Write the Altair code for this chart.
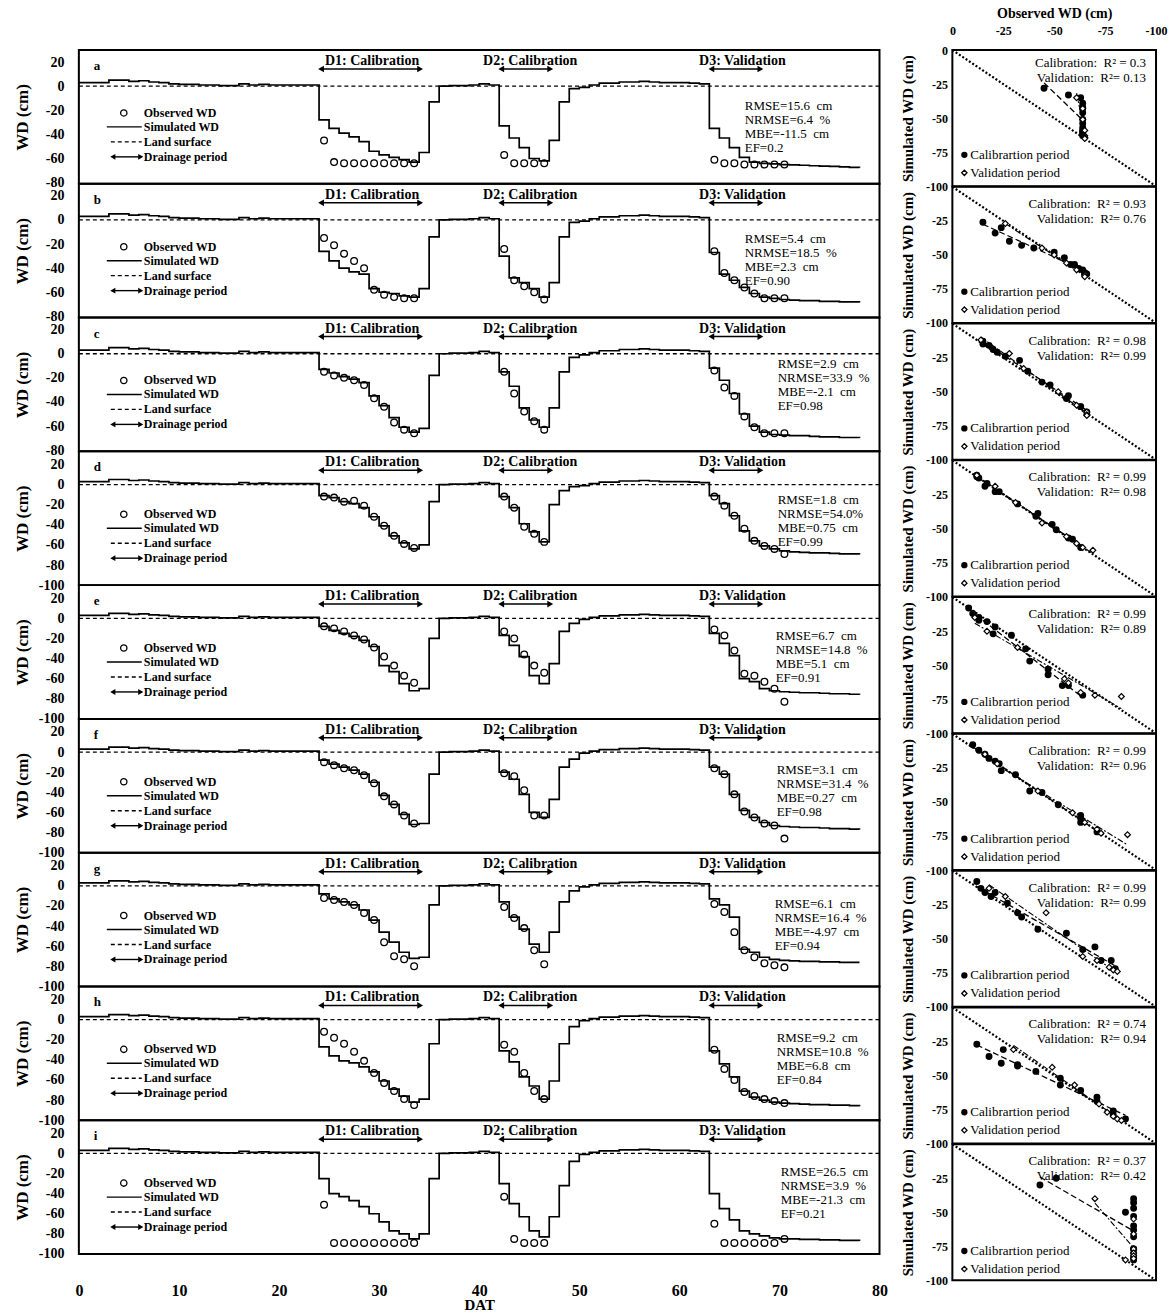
import altair as alt
import pandas as pd

FONT = "Liberation Serif"

PANEL_LETTERS = ["a", "b", "c", "d", "e", "f", "g", "h", "i"]

# ---------------- simulated WD outside drainage periods (shared) ----------------
PRE_DAYS = [0, 1, 2, 3, 4, 5, 6, 7, 8, 9, 10, 11, 12, 13, 14, 15, 16, 17, 18, 19, 20, 21, 22, 23]
PRE_WD = [3, 3, 3, 5, 5, 4, 4.5, 3.5, 3, 2, 1.5, 1.5, 1, 1, 0.5, 0.5, 2, 1, 1.5, 1, 1, 1, 1, 1]
MID1_DAYS = [36, 37, 38, 39, 40, 41]
MID1_WD = [0, 0.5, 0.5, 1, 2, 1]
MID2_DAYS = [50, 51, 52, 53, 54, 55, 56, 57, 58, 59, 60, 61, 62]
MID2_WD = [-1, 1, 2.5, 2.5, 3.5, 3.5, 4, 3.5, 3, 3, 3, 2.5, 2]

D1_DAYS = [24, 25, 26, 27, 28, 29, 30, 31, 32, 33, 34, 35]
D2_DAYS = [42, 43, 44, 45, 46, 47, 48, 49]
D3_DAYS = [63, 64, 65, 66, 67, 68, 69, 70, 71, 72, 73, 74, 75, 76, 77, 78]

OBS_D1_DAYS = [24.5, 25.5, 26.5, 27.5, 28.5, 29.5, 30.5, 31.5, 32.5, 33.5]
OBS_D2_DAYS = [42.5, 43.5, 44.5, 45.5, 46.5]
OBS_D3_DAYS = [63.5, 64.5, 65.5, 66.5, 67.5, 68.5, 69.5, 70.5]

# ---------------- simulated WD in drainage periods, panels a..i ----------------
D1_SIM = [
    [-28, -35, -39, -42, -46, -54, -57, -59, -61, -63, -55, -13],
    [-26, -34, -40, -43, -45, -57, -60, -61, -63, -64, -57, -14],
    [-13, -16, -19, -21, -24, -35, -43, -53, -61, -65, -62, -18],
    [-11, -13, -17, -19, -23, -32, -41, -51, -58, -64, -60, -17],
    [-8, -12, -15, -18, -22, -28, -47, -53, -65, -72, -70, -20],
    [-8, -12, -15, -18, -22, -30, -43, -52, -62, -72, -71, -22],
    [-8, -13, -16, -19, -24, -34, -46, -56, -66, -72, -71, -19],
    [-27, -36, -41, -43, -47, -52, -61, -69, -76, -82, -79, -24],
    [-25, -40, -43, -47, -53, -60, -68, -77, -80, -85, -80, -25],
]
D2_SIM = [
    [-33, -43, -51, -60, -62, -45, -13, -2],
    [-30, -48, -52, -57, -64, -52, -14, -2],
    [-15, -27, -45, -55, -61, -45, -15, -3],
    [-12, -23, -39, -47, -57, -20, -6, -2],
    [-17, -27, -38, -57, -65, -45, -13, -5],
    [-20, -27, -42, -60, -65, -47, -15, -7],
    [-16, -31, -43, -58, -66, -46, -16, -5],
    [-31, -42, -57, -66, -79, -61, -24, -7],
    [-30, -50, -63, -77, -83, -63, -32, -8],
]
D3_SIM = [
    [-35, -43, -51, -59, -63, -64, -64.5, -65, -65.3, -65.6, -66, -66.3, -66.6, -67, -67.3, -67.6],
    [-27, -45, -50, -56, -61, -64, -65, -66, -66.5, -67, -67, -67.5, -67.5, -68, -68, -68.5],
    [-12, -22, -33, -50, -60, -65, -67, -67.5, -68, -68, -68.5, -69, -69, -69.5, -69.5, -70],
    [-11, -19, -31, -46, -56, -61, -64, -66, -67, -67.5, -68, -68, -68.5, -69, -69, -69.5],
    [-15, -25, -37, -60, -63, -70, -72, -73, -73.5, -74, -74, -74.5, -75, -75, -75.5, -76],
    [-15, -22, -42, -58, -65, -70, -73, -74, -74.5, -75, -75, -75.5, -76, -76, -76.5, -77],
    [-13, -19, -31, -63, -66, -71, -73, -74, -74.5, -75, -75, -75.5, -75.5, -76, -76, -76],
    [-31, -44, -57, -71, -77, -80, -82, -83, -83.5, -84, -84.5, -84.5, -85, -85, -85.5, -86],
    [-40, -55, -66, -77, -80, -82, -84, -85, -85, -85.5, -85.5, -86, -86, -86.5, -86.5, -87],
]

# ---------------- observed WD, panels a..i ----------------
D1_OBS = [
    [-45, -63, -64, -64, -64, -64, -64, -64, -64, -64],
    [-15, -21, -28, -34, -40, -58, -62, -64, -65, -65],
    [-15, -18, -20, -22, -26, -37, -44, -57, -63, -66],
    [-12, -13, -17, -16, -21, -32, -41, -51, -59, -63],
    [-8, -10, -13, -17, -21, -29, -38, -47, -57, -64],
    [-10, -13, -16, -18, -23, -31, -44, -52, -63, -71],
    [-12, -14, -16, -19, -27, -34, -56, -70, -73, -80],
    [-12, -18, -24, -32, -41, -53, -63, -71, -79, -85],
    [-51, -89, -89, -89, -89, -89, -89, -89, -89, -89],
]
D2_OBS = [
    [-57, -64, -64, -64, -64],
    [-24, -50, -55, -60, -66],
    [-15, -33, -48, -56, -63],
    [-12, -23, -42, -49, -57],
    [-13, -20, -36, -47, -54],
    [-21, -24, -38, -63, -63],
    [-21, -32, -42, -64, -78],
    [-25, -32, -53, -71, -79],
    [-43, -85, -89, -89, -89],
]
D3_OBS = [
    [-61, -64, -64, -65, -65, -65, -65, -65],
    [-26, -44, -50, -56, -61, -65, -65, -65],
    [-14, -28, -35, -52, -61, -66, -66, -66],
    [-12, -21, -31, -44, -56, -61, -64, -69],
    [-11, -17, -32, -55, -57, -63, -70, -83],
    [-16, -22, -42, -59, -65, -71, -73, -86],
    [-18, -26, -46, -64, -71, -77, -79, -81],
    [-30, -49, -60, -72, -76, -79, -81, -83],
    [-70, -89, -89, -89, -89, -89, -89, -85],
]

# ---------------- statistics text ----------------
RMSE = ["15.6", "5.4", "2.9", "1.8", "6.7", "3.1", "6.1", "9.2", "26.5"]
NRMSE = ["6.4\u00a0\u00a0%", "18.5\u00a0\u00a0%", "33.9\u00a0\u00a0%", "54.0%", "14.8\u00a0\u00a0%",
         "31.4\u00a0\u00a0%", "16.4\u00a0\u00a0%", "10.8\u00a0\u00a0%", "3.9\u00a0\u00a0%"]
MBE = ["-11.5", "2.3", "-2.1", "0.75", "5.1", "0.27", "-4.97", "6.8", "-21.3"]
EF = ["0.2", "0.90", "0.98", "0.99", "0.91", "0.98", "0.94", "0.84", "0.21"]
R2_CAL = ["0.3", "0.93", "0.98", "0.99", "0.99", "0.99", "0.99", "0.74", "0.37"]
R2_VAL = ["0.13", "0.76", "0.99", "0.98", "0.89", "0.96", "0.99", "0.94", "0.42"]

# ---------------- axes / annotation settings ----------------
Y_MIN = [-81, -81, -81, -100, -100, -100, -100, -100, -100]
Y_MAX = [30, 30, 30, 33, 33, 33, 33, 33, 33]
Y_TICKS_SHORT = [20, 0, -20, -40, -60, -80]
Y_TICKS_LONG = [20, 0, -20, -40, -60, -80, -100]
X_TICKS = [0, 10, 20, 30, 40, 50, 60, 70, 80]
R_TICKS_FIRST = [0, -25, -50, -75, -100]
R_TICKS = [-25, -50, -75, -100]
DIAG = [0, -100]
LAND_SURFACE = [0]

ARROW_START = [24.2, 42.2, 63.2]
ARROW_END = [34.1, 47.1, 68.1]
LABEL_X = [29.3, 45.1, 66.3]
DRAIN_LABELS = ["D1: Calibration", "D2: Calibration", "D3: Validation"]

STATS_X = [667, 667, 700, 700, 698, 699, 697, 699, 703]
STATS_Y0 = [56, 55, 47, 49, 51, 51, 51, 52, 52]

LEFT_W, LEFT_H = 802, 134
RIGHT_W, RIGHT_H = 204, 136.4

ONE = pd.DataFrame({"k": [0]})


def ptext(txt, x, y, size=12, weight="normal", align="left", opacity=1):
    return alt.Chart(pd.DataFrame({"t": [txt]})).mark_text(
        font=FONT, fontSize=size, fontWeight=weight, align=align,
        baseline="middle", color="black", opacity=opacity
    ).encode(x=alt.value(x), y=alt.value(y), text="t:N")


def prule(x1, x2, y, dash=None):
    kw = dict(color="black", strokeWidth=1.4)
    if dash:
        kw["strokeDash"] = dash
    return alt.Chart(ONE).mark_rule(**kw).encode(
        x=alt.value(x1), x2=alt.value(x2), y=alt.value(y))


def ppoint(x, y, shape, filled, size):
    return alt.Chart(ONE).mark_point(
        shape=shape, filled=filled, color="black", size=size,
        strokeWidth=1.3, opacity=1
    ).encode(x=alt.value(x), y=alt.value(y))


def left_panel(i):
    last = i == 8
    xs = alt.Scale(domain=[0, 80], nice=False, zero=False)
    ys = alt.Scale(domain=[Y_MIN[i], Y_MAX[i]], nice=False, zero=False)
    if last:
        x_axis = alt.Axis(title="DAT", values=X_TICKS, labelFlush=False, labelOverlap=False,
                          ticks=False, domain=False, labelPadding=29, labelFontSize=16,
                          labelFontWeight="bold", titleFontSize=15, titleFontWeight="bold",
                          titleY=51, titleBaseline="middle")
    else:
        x_axis = None
    y_axis = alt.Axis(title="WD (cm)", values=Y_TICKS_SHORT if i < 3 else Y_TICKS_LONG,
                      labelExpr="'' + datum.value", ticks=False, domain=False,
                      labelPadding=15, labelFontSize=14, labelFontWeight="bold",
                      labelOverlap=False, labelFlush=False,
                      titleX=-56, titleY=LEFT_H / 2, titleAngle=270, titleAlign="center",
                      titleBaseline="middle", titleFontSize=17, titleFontWeight="bold")

    def X(f="day"):
        return alt.X(f + ":Q", scale=xs, axis=x_axis)

    def Y(f="wd"):
        return alt.Y(f + ":Q", scale=ys, axis=y_axis)

    sim_df = pd.DataFrame({
        "day": PRE_DAYS + D1_DAYS + MID1_DAYS + D2_DAYS + MID2_DAYS + D3_DAYS,
        "wd": PRE_WD + D1_SIM[i] + MID1_WD + D2_SIM[i] + MID2_WD + D3_SIM[i],
    })
    obs_df = pd.DataFrame({
        "day": OBS_D1_DAYS + OBS_D2_DAYS + OBS_D3_DAYS,
        "wd": D1_OBS[i] + D2_OBS[i] + D3_OBS[i],
    })

    land = alt.Chart(pd.DataFrame({"wd": LAND_SURFACE})).mark_rule(
        color="black", strokeDash=[4, 3], strokeWidth=1.3).encode(y=Y())
    sim = alt.Chart(sim_df).mark_line(
        interpolate="step-after", color="black", strokeWidth=1.7).encode(x=X(), y=Y())
    obs = alt.Chart(obs_df).mark_point(
        shape="circle", filled=False, color="black", size=45, strokeWidth=1.3,
        opacity=1).encode(x=X(), y=Y())
    arr = alt.Chart(pd.DataFrame({"day": ARROW_START, "day2": ARROW_END})).mark_rule(
        color="black", strokeWidth=1.5).encode(x=X(), x2="day2:Q", y=alt.value(19))
    head_l = alt.Chart(pd.DataFrame({"day": ARROW_START})).mark_point(
        shape="triangle-left", filled=True, color="black", size=45, opacity=1).encode(
        x=X(), y=alt.value(19))
    head_r = alt.Chart(pd.DataFrame({"day": ARROW_END})).mark_point(
        shape="triangle-right", filled=True, color="black", size=45, opacity=1).encode(
        x=X(), y=alt.value(19))
    dlab = alt.Chart(pd.DataFrame({"day": LABEL_X, "t": DRAIN_LABELS})).mark_text(
        font=FONT, fontSize=14, fontWeight="bold", color="black", baseline="middle").encode(
        x=X(), y=alt.value(11), text="t:N")

    layers = [land, sim, obs, arr, head_l, head_r, dlab]

    # invisible spacer so that the top of this column lines up with the right column
    if i == 0:
        layers.append(ptext("x", 400, -37, size=14, weight="bold", opacity=0))

    # panel letter
    layers.append(ptext(PANEL_LETTERS[i], 15, 16, size=13, weight="bold"))
    # legend
    layers += [
        ppoint(45, 63, "circle", False, 40),
        prule(28, 63, 77),
        prule(32, 63, 92, dash=[4, 3]),
        prule(36, 60, 107),
        ppoint(34, 107, "triangle-left", True, 35),
        ppoint(62, 107, "triangle-right", True, 35),
        ptext("Observed WD", 65, 63, size=12, weight="bold"),
        ptext("Simulated WD", 65, 77, size=12, weight="bold"),
        ptext("Land surface", 65, 92, size=12, weight="bold"),
        ptext("Drainage period", 65, 107, size=12, weight="bold"),
    ]
    # statistics
    sx, sy = STATS_X[i], STATS_Y0[i]
    layers += [
        ptext("RMSE=" + RMSE[i] + "\u00a0\u00a0cm", sx, sy, size=13),
        ptext("NRMSE=" + NRMSE[i], sx, sy + 14, size=13),
        ptext("MBE=" + MBE[i] + "\u00a0\u00a0cm", sx, sy + 28, size=13),
        ptext("EF=" + EF[i], sx, sy + 42, size=13),
    ]
    return alt.layer(*layers).properties(width=LEFT_W, height=LEFT_H)


def right_panel(i):
    xs = alt.Scale(domain=[-100, 0], reverse=True, nice=False, zero=False)
    ys = alt.Scale(domain=[-100, 0], nice=False, zero=False)
    if i == 0:
        x_axis = alt.Axis(orient="top", title="Observed WD (cm)", values=R_TICKS_FIRST,
                          labelExpr="'' + datum.value", ticks=False, domain=False,
                          labelPadding=13, labelFontSize=12, labelFontWeight="bold",
                          labelFlush=False, labelOverlap=False, titleFontSize=14,
                          titleFontWeight="bold", titleY=-37, titleBaseline="middle")
    else:
        x_axis = None
    y_axis = alt.Axis(title="Simulated WD (cm)", values=R_TICKS_FIRST if i == 0 else R_TICKS,
                      labelExpr="'' + datum.value", ticks=False, domain=False,
                      labelPadding=5, labelFontSize=12, labelFontWeight="bold",
                      labelOverlap=False, labelFlush=False,
                      titleX=-45, titleY=RIGHT_H / 2, titleAngle=270, titleAlign="center",
                      titleBaseline="middle", titleFontSize=15, titleFontWeight="bold")

    def X():
        return alt.X("obs:Q", scale=xs, axis=x_axis)

    def Y():
        return alt.Y("sim:Q", scale=ys, axis=y_axis)

    cal_df = pd.DataFrame({"obs": D1_OBS[i] + D2_OBS[i],
                           "sim": D1_SIM[i][:10] + D2_SIM[i][:5]})
    val_df = pd.DataFrame({"obs": D3_OBS[i], "sim": D3_SIM[i][:8]})
    diag_df = pd.DataFrame({"obs": DIAG, "sim": DIAG})

    diag = alt.Chart(diag_df).mark_line(
        color="black", strokeDash=[2, 2], strokeWidth=2.2).encode(x=X(), y=Y())
    reg_cal = alt.Chart(cal_df).transform_regression("obs", "sim").mark_line(
        color="black", strokeDash=[6, 3], strokeWidth=1.3, clip=True).encode(x=X(), y=Y())
    reg_val = alt.Chart(val_df).transform_regression("obs", "sim").mark_line(
        color="black", strokeDash=[6, 2, 2, 2], strokeWidth=1.1, clip=True).encode(x=X(), y=Y())
    cal = alt.Chart(cal_df).mark_point(
        shape="circle", filled=True, color="black", size=48, opacity=1).encode(x=X(), y=Y())
    val = alt.Chart(val_df).mark_point(
        shape="diamond", filled=True, fill="white", color="black", stroke="black", size=34,
        strokeWidth=1.2, opacity=1).encode(x=X(), y=Y())

    r2y = (13, 28) if i == 0 else (17, 32)
    ly = (105, 123) if i < 8 else (107, 125)
    layers = [
        diag, reg_cal, reg_val, cal, val,
        ptext("Calibration:\u00a0\u00a0R\u00b2 = " + R2_CAL[i], 194, r2y[0], size=13, align="right"),
        ptext("Validation:\u00a0\u00a0R\u00b2= " + R2_VAL[i], 194, r2y[1], size=13, align="right"),
        ppoint(12, ly[0], "circle", True, 40),
        ppoint(12, ly[1], "diamond", False, 28),
        ptext("Calibrartion period", 18, ly[0], size=13),
        ptext("Validation period", 18, ly[1], size=13),
    ]
    return alt.layer(*layers).properties(width=RIGHT_W, height=RIGHT_H)


left_col = alt.vconcat(*[left_panel(i) for i in range(9)], spacing=0, bounds="flush")
right_col = alt.vconcat(*[right_panel(i) for i in range(9)], spacing=0, bounds="flush")

chart = alt.hconcat(left_col, right_col, spacing=10).properties(
    padding={"left": 13, "top": 4, "right": 2, "bottom": 2},
    background="white",
).configure_view(
    stroke="black", strokeWidth=2
).configure_axis(
    grid=False, labelFont=FONT, titleFont=FONT, labelColor="black", titleColor="black"
)

chart.save("out.html", embed_options={"renderer": "svg", "actions": False})
